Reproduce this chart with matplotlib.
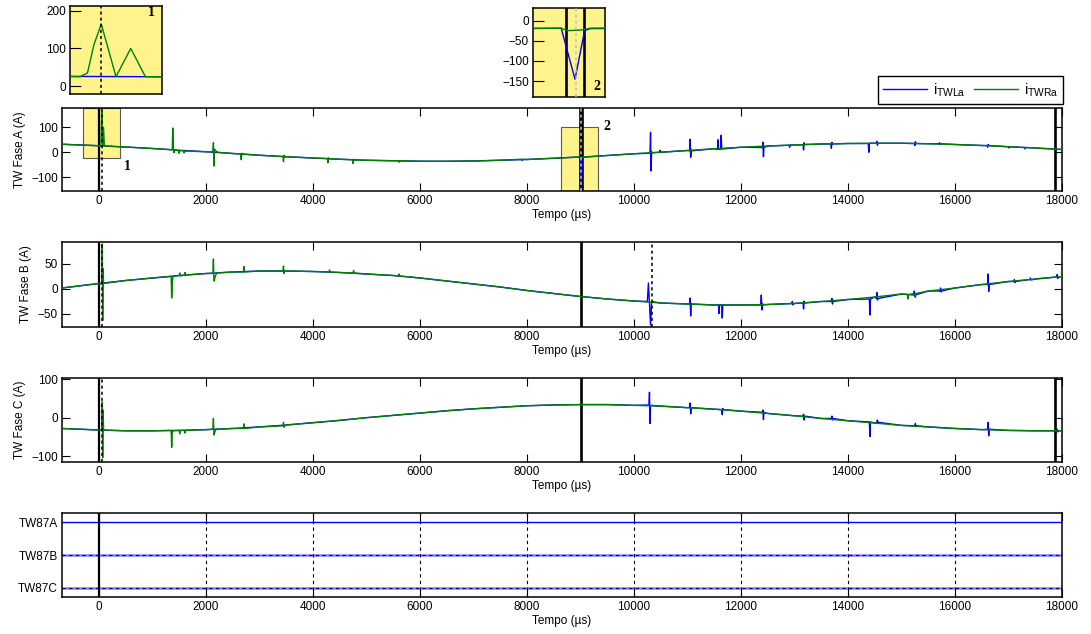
import numpy as np
import matplotlib
matplotlib.use('Agg')
import matplotlib.pyplot as plt
from matplotlib.patches import Rectangle

plt.rcParams['font.family'] = ['Liberation Sans', 'DejaVu Sans']
plt.rcParams['font.size'] = 8.5
plt.rcParams['mathtext.default'] = 'regular'

# ---- sampled currents (A) ----
t_base = [-690, 0, 500, 1000, 1500, 2000, 2500, 3000, 3500, 4000, 4500, 5000, 5500,
          6000, 6500, 7000, 7500, 8000, 8500, 9000, 9500, 10000, 10500, 11000, 11500,
          12000, 12500, 13000, 13500, 14000, 14500, 15000, 15500, 16000, 16500, 17000,
          17500, 18000]
base_a = [32, 26, 21, 15, 8, 2, -5, -12, -18, -23, -28, -32, -34, -36, -36, -35, -32,
          -29, -24, -19, -13, -6, 0, 7, 14, 20, 25, 29, 33, 35, 36, 36, 34, 31, 27, 22,
          17, 11]
base_b = [1, 10, 16, 21, 26, 30, 33, 35, 35, 34, 32, 29, 26, 21, 15, 9, 3, -4, -10,
          -16, -21, -25, -29, -31, -33, -33, -32, -30, -26, -22, -17, -11, -5, 1, 8, 14,
          19, 24]
base_c = [-28, -32, -34, -34, -33, -31, -28, -24, -19, -13, -7, 0, 6, 12, 18, 23, 27,
          31, 33, 34, 34, 32, 30, 26, 22, 17, 11, 5, -2, -8, -14, -20, -24, -28, -31,
          -33, -34, -34]

# zoomed detail 1 (green, phase A) and detail 2 (phase A around 9000 us)
zoom1_t = [31, 39, 46, 54, 70, 86, 102]
zoom1_r = [25, 35, 110, 165, 25, 100, 25]
zoom2_t = [8992, 9015, 9031, 9040]
zoom2_l = [-19, -145, -25, -20]
zoom2_rt = [8992, 9002, 9030, 9040]
zoom2_r = [-19, -25, -23, -19]


def ev(t0, vals, dt=10):
    return ([t0 + k * dt for k in range(len(vals))], vals)


# transients: (times, values)
spk_a_l = [(zoom2_t, zoom2_l),
           ev(10300, [-4, 80, -75, 2, -2]), ev(10480, [0, 8, 0]),
           ev(11040, [6, 52, -20, 3, 9, 6]), ev(11560, [12, 50, 12]),
           ev(11620, [12, 68, 13]), ev(12400, [19, 40, -18, 24, 20]),
           ev(12900, [28, 20, 29]), ev(13160, [30, 9, 38, 31]),
           ev(13680, [33, 16, 40, 33]), ev(14380, [35, 0, 36]),
           ev(14530, [36, 44, 28, 36]), ev(15240, [35, 27, 42, 35]),
           ev(15700, [34, 38, 31, 34]), ev(16600, [27, 20, 31, 27]),
           ev(17000, [22, 17, 22]), ev(17300, [19, 14, 19])]
spk_a_r = [(zoom1_t, zoom1_r), (zoom2_rt, zoom2_r),
           ev(1370, [10, 97, 30, -2, 5, 8]), ev(1490, [7, -4, 6]),
           ev(1580, [6, -3, 5]), ev(2130, [2, 38, -55, 12, 10, 7, 5, 3, 2, 0]),
           ev(2650, [-6, -30, -4, -7]), ev(3440, [-17, -38, -12, -19]),
           ev(4270, [-25, -42, -22, -26]), ev(4740, [-30, -45, -28, -31]),
           ev(5600, [-34, -40, -34]), ev(7900, [-28, -34, -28])]

spk_b_l = [ev(10250, [-26, 11, -30, -73, -26], 20),
           ev(11040, [-31, -19, -55, -30, -31]), ev(11580, [-33, -50, -32]),
           ev(11640, [-33, -59, -33]), ev(12370, [-33, -13, -43, -30, -33]),
           ev(12950, [-30, -26, -33, -30]), ev(13160, [-29, -41, -25, -29]),
           ev(13690, [-26, -20, -31, -26]), ev(14400, [-21, -53, -21]),
           ev(14530, [-20, -8, -23, -20]), ev(15230, [-13, -5, -16, -13]),
           ev(15720, [-5, 1, -7, -5]), ev(16610, [8, 29, -6, 8]),
           ev(17100, [14, 18, 12, 14]), ev(17400, [18, 21, 17]),
           ev(17900, [23, 28, 20, 23])]
spk_b_r = [ev(55, [9, 89, -64, 40, 10], 8),
           ev(1350, [24, -19, 5, 22, 24]), ev(1500, [26, 31, 25]),
           ev(1600, [27, 32, 27]), ev(2130, [30, 59, 15, 18, 22, 26, 28, 30, 31]),
           ev(2700, [33, 44, 33]), ev(3440, [35, 45, 30, 35]),
           ev(4300, [33, 37, 33]), ev(4750, [31, 36, 30, 31]),
           ev(5600, [25, 29, 25]), ev(15110, [-12, -21, -12]),
           ev(15250, [-10, -18, -10])]

spk_c_l = [ev(10280, [33, 66, -15, 30, 32]), ev(11040, [27, 38, 10, 25, 26]),
           ev(11640, [21, 8, 24, 21]), ev(12400, [14, 20, -5, 14]),
           ev(13160, [4, 9, -6, 4]), ev(13690, [-2, 4, -6, -2]),
           ev(14400, [-11, -49, -11]), ev(14540, [-12, -6, -15, -12]),
           ev(15250, [-21, -15, -23, -21]), ev(16610, [-30, -12, -47, -30]),
           ev(17900, [-34, -30, -37, -34])]
spk_c_r = [ev(55, [-32, 41, -104, 20, -32], 8),
           ev(1350, [-33, -77, -40, -34]), ev(1500, [-33, -42, -33]),
           ev(1600, [-33, -40, -33]), ev(2130, [-30, -2, -45, -40, -36, -33, -31, -30]),
           ev(2700, [-28, -16, -28]), ev(3440, [-21, -12, -25, -21])]

# trip / detection instants (us)
solid_marks = {'A': [0, 9000, 9030, 17865], 'B': [0, 9010], 'C': [0, 9010, 17865]}
dot_marks = {'A': [54, 9016], 'B': [54, 10330], 'C': [54]}

tw_names = ['TW87A', 'TW87B', 'TW87C']
tw_level = [3, 2, 1]
tw_grid = [2000, 4000, 6000, 8000, 10000, 12000, 14000, 16000]


def build(tb, vb, events):
    pts = list(zip(tb, vb))
    for ts, vs in events:
        pts = [p for p in pts if not (ts[0] <= p[0] <= ts[-1])]
        pts += list(zip(ts, vs))
    pts.sort()
    return np.array(pts).T


series = {
    'A': (build(t_base, base_a, spk_a_l), build(t_base, base_a, spk_a_r)),
    'B': (build(t_base, base_b, spk_b_l), build(t_base, base_b, spk_b_r)),
    'C': (build(t_base, base_c, spk_c_l), build(t_base, base_c, spk_c_r)),
}
ylims = {'A': (-155, 177), 'B': (-77, 93), 'C': (-115, 103)}
yticks = {'A': [-100, 0, 100], 'B': [-50, 0, 50], 'C': [-100, 0, 100]}

BLUE = (0, 0, 1)
GREEN = (0, 0.5, 0)
YELLOW = '#fff38c'

W, H = 1091, 634
fig = plt.figure(figsize=(W / 100, H / 100), dpi=100)


def px_axes(l, t, r, b):
    return fig.add_axes([l / W, 1 - b / H, (r - l) / W, (b - t) / H])


def style(ax, **kw):
    ax.tick_params(direction='in', length=6, width=0.8, labelsize=8.5, pad=3, **kw)
    for s in ax.spines.values():
        s.set_linewidth(1.1)


def draw_phase(ax, key):
    (tl, vl), (tr, vr) = series[key]
    hl, = ax.plot(tl, vl, color=BLUE, lw=1, zorder=3)
    hr, = ax.plot(tr, vr, color=GREEN, lw=1, zorder=3)
    for x in solid_marks[key]:
        ax.axvline(x, color='k', lw=1.9 if x != 0 else 1.6, zorder=2)
    for x in dot_marks[key]:
        col = '0.75' if x == 9016 else 'k'
        ax.axvline(x, color=col, lw=1.1, ls=(0, (2, 2)), zorder=4)
    return hl, hr


panel_px = {'A': (108, 191), 'B': (242, 327), 'C': (378, 462)}
axes = {}
for key in ['A', 'B', 'C']:
    top, bot = panel_px[key]
    ax = px_axes(62, top, 1062, bot)
    axes[key] = ax
    h = draw_phase(ax, key)
    if key == 'A':
        handles = h
    ax.set_xlim(-690, 18000)
    ax.set_ylim(*ylims[key])
    ax.set_xticks(range(0, 18001, 2000))
    ax.set_yticks(yticks[key])
    ax.set_ylabel('TW Fase %s (A)' % key, labelpad=4)
    ax.set_xlabel('Tempo (µs)', labelpad=1)
    style(ax, top=True, right=True)

# highlighted windows on phase A
axA = axes['A']
axA.add_patch(Rectangle((-300, -23), 700, 200, facecolor=YELLOW, edgecolor='0.35', lw=0.8, zorder=1))
axA.add_patch(Rectangle((8640, -155), 690, 256, facecolor=YELLOW, edgecolor='0.35', lw=0.8, zorder=1))
axA.text(529, -55, '1', family='Liberation Serif', weight='bold', fontsize=10, ha='center', va='center')
axA.text(9495, 101, '2', family='Liberation Serif', weight='bold', fontsize=10, ha='center', va='center')

# zoom 1
ax1 = px_axes(70, 6, 162, 94)
ax1.set_facecolor(YELLOW)
draw_phase(ax1, 'A')
ax1.set_xlim(20, 120)
ax1.set_ylim(-21, 213)
ax1.set_xticks([])
ax1.set_yticks([0, 100, 200])
style(ax1)
ax1.tick_params(length=8)
ax1.text(0.89, 0.93, '1', transform=ax1.transAxes, family='Liberation Serif',
         weight='bold', fontsize=10, ha='center', va='center')

# zoom 2
ax2 = px_axes(533, 8, 605, 97)
ax2.set_facecolor(YELLOW)
draw_phase(ax2, 'A')
ax2.set_xlim(8945, 9065)
ax2.set_ylim(-189, 31)
ax2.set_xticks([])
ax2.set_yticks([-150, -100, -50, 0])
style(ax2)
ax2.tick_params(length=8)
ax2.text(0.89, 0.12, '2', transform=ax2.transAxes, family='Liberation Serif',
         weight='bold', fontsize=10, ha='center', va='center')

fig.legend(handles, [r'$i_{TWLa}$', r'$i_{TWRa}$'], loc='upper right',
           bbox_to_anchor=(1063 / W, 1 - 76 / H), ncol=2, fancybox=False,
           edgecolor='k', framealpha=1, fontsize=10.5, handlelength=3.0,
           handletextpad=0.4, columnspacing=0.6, borderaxespad=0,
           borderpad=0.35)

# relay 87 outputs
axD = px_axes(62, 513, 1062, 597)
for level, name in zip(tw_level, tw_names):
    if name == 'TW87A':
        axD.plot([-690, 18000], [level, level], color=BLUE, lw=1)
    else:
        axD.plot([-690, 18000], [level, level], color=BLUE, lw=1.8, alpha=0.5)
        axD.plot([-690, 18000], [level, level], color='#000060', lw=0.8, ls=(0, (3, 3)))
for x in tw_grid:
    axD.axvline(x, color='k', lw=0.8, ls=(0, (3, 3)), zorder=1)
axD.axvline(0, color='k', lw=1.6)
axD.set_xlim(-690, 18000)
axD.set_ylim(0.715, 3.285)
axD.set_xticks(range(0, 18001, 2000))
axD.set_yticks(tw_level, tw_names)
axD.set_xlabel('Tempo (µs)', labelpad=1)
style(axD, top=True, right=True)
axD.tick_params(axis='y', length=0)

fig.savefig('out.png', dpi=100)
